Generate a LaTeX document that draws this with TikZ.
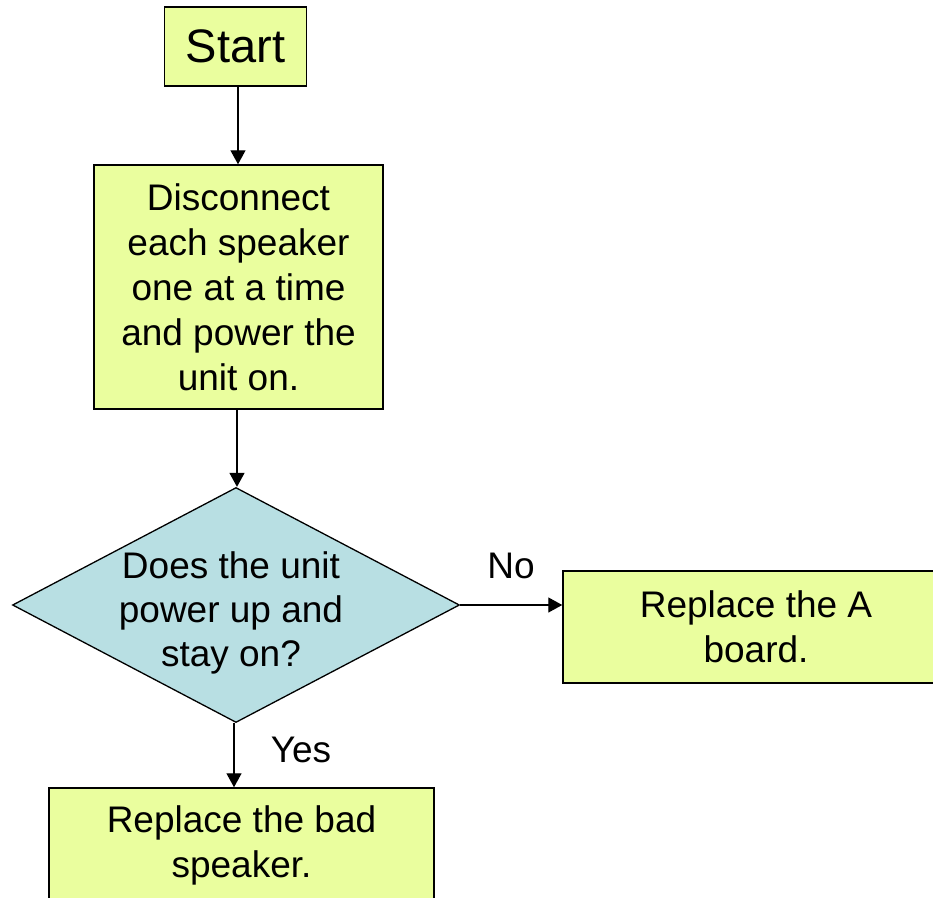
\documentclass[tikz,border=0pt]{standalone}
\usepackage{fontspec}
\setmainfont{Liberation Sans}
\usetikzlibrary{shapes.geometric,arrows.meta}
\definecolor{boxfill}{RGB}{234,254,158}
\definecolor{diafill}{RGB}{184,223,227}
\tikzset{
  procbox/.style={draw=black, line width=1.5pt, fill=boxfill, inner sep=0pt,
    align=center, font=\fontsize{37}{45}\selectfont},
  decbox/.style={draw=black, line width=1.3pt, fill=diafill, diamond, inner sep=0pt,
    minimum width=447pt, minimum height=235pt},
  dtext/.style={align=center, inner sep=0pt, font=\fontsize{37}{44}\selectfont},
  lbl/.style={inner sep=0pt, font=\fontsize{37}{44}\selectfont},
  conn/.style={line width=1.4pt, -{Triangle[length=14pt,width=15pt]}}
}
\begin{document}
\begin{tikzpicture}[x=1pt,y=-1pt]
\useasboundingbox (0,0) rectangle (933,897);
\clip (0,0) rectangle (933,897);
\fill[white] (0,0) rectangle (933,897);
\node[procbox, minimum width=142pt, minimum height=79pt,
  font=\fontsize{47}{56}\selectfont] (start) at (235.5,46.5) {Start};
\node[procbox, minimum width=289pt, minimum height=244pt] (disc) at (238.5,287)
  {Disconnect\\each speaker\\one at a time\\and power the\\unit on.};
\node[decbox] (dia) at (236,605) {};
\node[dtext] (diatext) at (231,613) {Does the unit\\power up and\\stay on?};
\node[procbox, minimum width=386pt, minimum height=112pt] (boardA) at (756,627)
  {Replace the A\\board.};
\node[procbox, minimum width=385pt, minimum height=114pt] (spk) at (241.5,845)
  {Replace the bad\\speaker.};
\draw[conn] (start.south -| 238,0) -- (disc.north -| 238,0);
\draw[conn] (disc.south -| 237,0) -- (dia.north -| 237,0);
\draw[conn] (dia.east) -- (boardA.west |- dia.east);
\draw[conn] (dia.south -| 234,0) -- (spk.north -| 234,0);
\node[lbl] (nolbl) at (511,566) {No};
\node[lbl] (yeslbl) at (301,750) {Yes};
\end{tikzpicture}
\end{document}
